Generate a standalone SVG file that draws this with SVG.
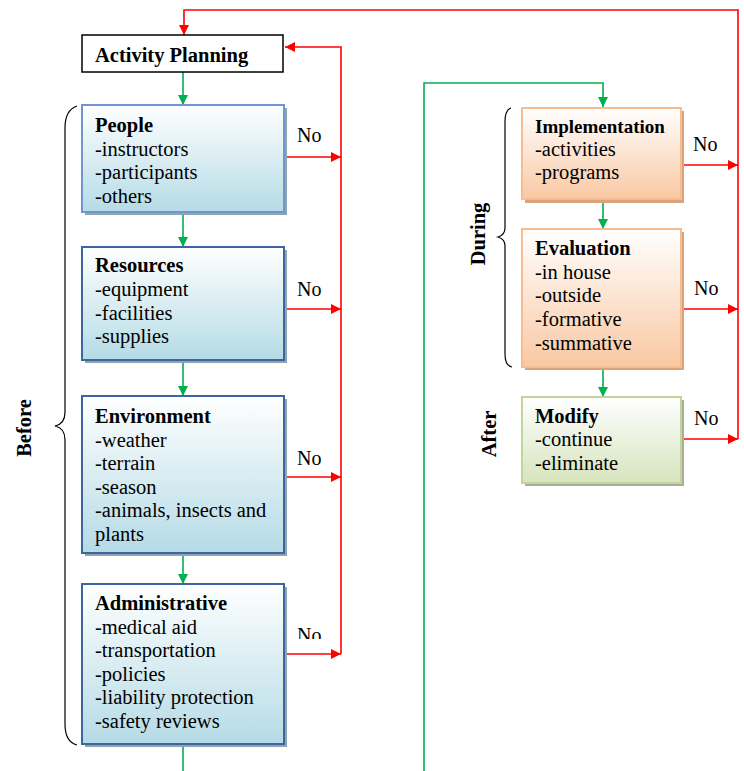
<svg xmlns="http://www.w3.org/2000/svg" width="744" height="771" viewBox="0 0 744 771">
  <defs>
    <linearGradient id="gBlue" x1="0" y1="0" x2="0" y2="1">
      <stop offset="0" stop-color="#ffffff"/>
      <stop offset="1" stop-color="#b5dbe6"/>
    </linearGradient>
    <linearGradient id="gOrange" x1="0" y1="0" x2="0" y2="1">
      <stop offset="0" stop-color="#ffffff"/>
      <stop offset="1" stop-color="#f9c8a3"/>
    </linearGradient>
    <linearGradient id="gGreen" x1="0" y1="0" x2="0" y2="1">
      <stop offset="0" stop-color="#ffffff"/>
      <stop offset="1" stop-color="#d6e4bd"/>
    </linearGradient>
    <marker id="arrG" viewBox="0 0 10 10" refX="10" refY="5" markerWidth="10" markerHeight="10" markerUnits="userSpaceOnUse" orient="auto">
      <path d="M0,0 L10,5 L0,10 Z" fill="#00b050"/>
    </marker>
    <marker id="arrR" viewBox="0 0 10 10" refX="10" refY="5" markerWidth="11" markerHeight="10" markerUnits="userSpaceOnUse" orient="auto">
      <path d="M0,0 L10,5 L0,10 Z" fill="#ff0000"/>
    </marker>
    <clipPath id="clipNo">
      <rect x="290" y="600" width="60" height="39"/>
    </clipPath>
  </defs>
  <style>
    text { font-family: "Liberation Serif", "Times New Roman", serif; font-size: 20.5px; fill: #000; }
    .b { font-weight: bold; }
    .lbl { font-size: 20px; }
    .shB { fill: #8fa4ad; }
    .shO { fill: #d7a47e; }
    .shG { fill: #a9ae98; }
    .bx1 { fill: url(#gBlue); stroke: #6f96cf; stroke-width: 2; }
    .bx2 { fill: url(#gBlue); stroke: #3d65a0; stroke-width: 2; }
    .bxO { fill: url(#gOrange); stroke: #f7bd90; stroke-width: 2; }
    .bxG { fill: url(#gGreen); stroke: #c2d69c; stroke-width: 2; }
    .g { fill: none; stroke: #00b050; stroke-width: 1.6; }
    .r { fill: none; stroke: #ff0000; stroke-width: 1.6; }
    .brace { fill: none; stroke: #000; stroke-width: 1.2; }
  </style>

  <!-- phase braces and labels -->
  <g id="phases">
    <path class="brace" d="M77,106 Q65,110 65,128 L65,412 Q65,424 55,426 Q65,428 65,440 L65,724 Q65,742 77,745"/>
    <text class="b" transform="translate(31,428) rotate(-90)" text-anchor="middle">Before</text>
    <path class="brace" d="M511,108 Q505,110 505,122 L505,228 Q505,235 498,237 Q505,239 505,246 L505,354 Q505,366 512,367"/>
    <text class="b" transform="translate(485,234) rotate(-90)" text-anchor="middle">During</text>
    <text class="b" transform="translate(496,434) rotate(-90)" text-anchor="middle">After</text>
  </g>

  <!-- connectors -->
  <g id="connectors">
    <!-- flow (green) -->
    <line class="g" x1="183" y1="72" x2="183" y2="105" marker-end="url(#arrG)"/>
    <line class="g" x1="183" y1="213" x2="183" y2="247" marker-end="url(#arrG)"/>
    <line class="g" x1="183" y1="361" x2="183" y2="396" marker-end="url(#arrG)"/>
    <line class="g" x1="183" y1="553" x2="183" y2="584" marker-end="url(#arrG)"/>
    <line class="g" x1="183" y1="745" x2="183" y2="771"/>
    <polyline class="g" points="424,771 424,83 603,83 603,107" marker-end="url(#arrG)"/>
    <line class="g" x1="603" y1="200" x2="603" y2="229" marker-end="url(#arrG)"/>
    <line class="g" x1="603" y1="367" x2="603" y2="397" marker-end="url(#arrG)"/>

    <!-- return paths (red) -->
    <line class="r" x1="285" y1="157" x2="341" y2="157" marker-end="url(#arrR)"/>
    <line class="r" x1="285" y1="309" x2="341" y2="309" marker-end="url(#arrR)"/>
    <line class="r" x1="285" y1="477" x2="341" y2="477" marker-end="url(#arrR)"/>
    <line class="r" x1="285" y1="654" x2="341" y2="654" marker-end="url(#arrR)"/>
    <polyline class="r" points="341,654 341,47 285,47" marker-end="url(#arrR)"/>

    <line class="r" x1="682" y1="165" x2="738" y2="165" marker-end="url(#arrR)"/>
    <line class="r" x1="682" y1="309" x2="738" y2="309" marker-end="url(#arrR)"/>
    <line class="r" x1="682" y1="439" x2="738" y2="439" marker-end="url(#arrR)"/>
    <polyline class="r" points="738,439 738,10 184,10 184,35" marker-end="url(#arrR)"/>

    <text class="lbl" x="297" y="142">No</text>
    <text class="lbl" x="297" y="296">No</text>
    <text class="lbl" x="297" y="465">No</text>
    <text class="lbl" x="297" y="642" clip-path="url(#clipNo)">No</text>
    <text class="lbl" x="693" y="151">No</text>
    <text class="lbl" x="694" y="295">No</text>
    <text class="lbl" x="694" y="425">No</text>
  </g>

  <!-- nodes -->
  <g id="activity-planning">
    <rect x="82" y="35" width="201" height="37" fill="#fff" stroke="#000" stroke-width="1.5"/>
    <text class="b" x="95" y="62">Activity Planning</text>
  </g>

  <g id="people">
    <rect class="shB" x="85" y="108" width="202" height="107"/>
    <rect class="bx1" x="82" y="105" width="202" height="107"/>
    <text class="b" x="95" y="132">People</text>
    <text x="95" y="155.5">-instructors</text>
    <text x="95" y="179">-participants</text>
    <text x="95" y="202.5">-others</text>
  </g>

  <g id="resources">
    <rect class="shB" x="85" y="250" width="202" height="113"/>
    <rect class="bx2" x="82" y="247" width="202" height="113"/>
    <text class="b" x="95" y="272">Resources</text>
    <text x="95" y="296">-equipment</text>
    <text x="95" y="319.5">-facilities</text>
    <text x="95" y="343">-supplies</text>
  </g>

  <g id="environment">
    <rect class="shB" x="85" y="399" width="202" height="157"/>
    <rect class="bx2" x="82" y="396" width="202" height="157"/>
    <text class="b" x="95" y="423">Environment</text>
    <text x="95" y="446.5">-weather</text>
    <text x="95" y="470">-terrain</text>
    <text x="95" y="493.5">-season</text>
    <text x="95" y="517">-animals, insects and</text>
    <text x="95" y="540.5">plants</text>
  </g>

  <g id="administrative">
    <rect class="shB" x="85" y="587" width="202" height="160"/>
    <rect class="bx2" x="82" y="584" width="202" height="160"/>
    <text class="b" x="95" y="610">Administrative</text>
    <text x="95" y="633.5">-medical aid</text>
    <text x="95" y="657">-transportation</text>
    <text x="95" y="680.5">-policies</text>
    <text x="95" y="704">-liability protection</text>
    <text x="95" y="728">-safety reviews</text>
  </g>

  <g id="implementation">
    <rect class="shO" x="525" y="111" width="159" height="92"/>
    <rect class="bxO" x="522" y="108" width="159" height="91"/>
    <text class="b" x="535" y="133" style="font-size:19px">Implementation</text>
    <text x="535" y="156">-activities</text>
    <text x="535" y="179">-programs</text>
  </g>

  <g id="evaluation">
    <rect class="shO" x="525" y="232" width="159" height="138"/>
    <rect class="bxO" x="522" y="229" width="159" height="138"/>
    <text class="b" x="535" y="255">Evaluation</text>
    <text x="535" y="278.5">-in house</text>
    <text x="535" y="302">-outside</text>
    <text x="535" y="326">-formative</text>
    <text x="535" y="350">-summative</text>
  </g>

  <g id="modify">
    <rect class="shG" x="525" y="400" width="159" height="86"/>
    <rect class="bxG" x="522" y="397" width="159" height="86"/>
    <text class="b" x="535" y="422.5">Modify</text>
    <text x="535" y="446">-continue</text>
    <text x="535" y="469.5">-eliminate</text>
  </g>
</svg>
